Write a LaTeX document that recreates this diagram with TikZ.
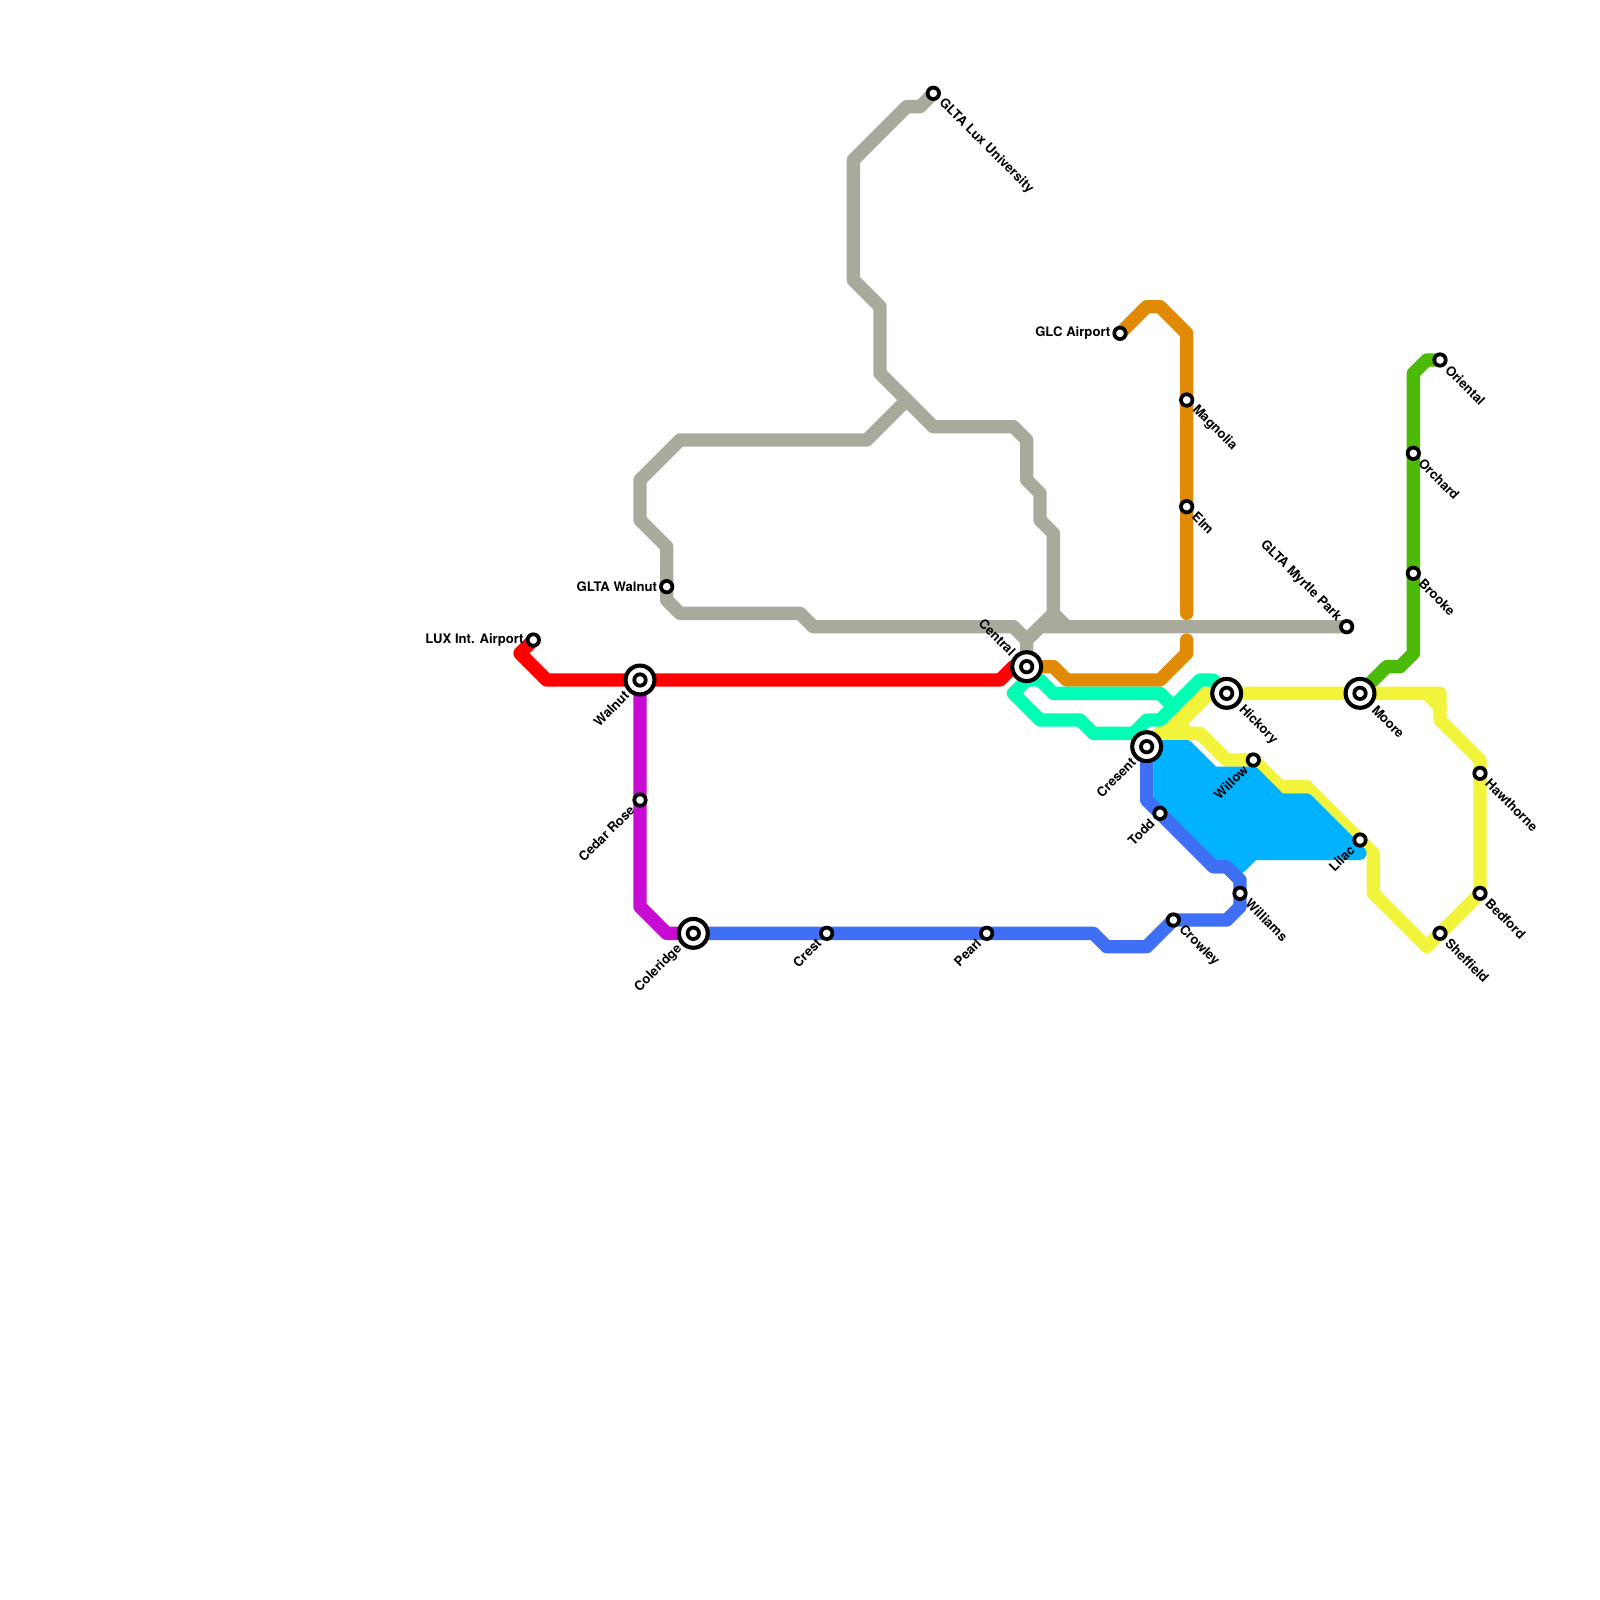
\documentclass[tikz,border=0pt]{standalone}
\usepackage{fontspec}
\setmainfont{TeX Gyre Heros}
\definecolor{cgrey}{HTML}{A9AA9C}
\definecolor{cred}{HTML}{FF0000}
\definecolor{corange}{HTML}{E08A05}
\definecolor{cteal}{HTML}{00FFB4}
\definecolor{cgreen}{HTML}{4CBB08}
\definecolor{cyel}{HTML}{F2F43C}
\definecolor{ccyan}{HTML}{00B2FF}
\definecolor{cblue}{HTML}{3F6FF5}
\definecolor{cpurple}{HTML}{C80BD3}
\tikzset{
 route/.style={line width=0.25cm,line cap=round,line join=round},
 stop/.style={circle,draw=black,fill=white,line width=2pt,minimum size=6.1pt,inner sep=0pt},
 hub/.style={circle,draw=black,fill=white,line width=2.2pt,minimum size=15.4pt,inner sep=0pt},
 lbl/.style={font=\bfseries\fontsize{7}{8}\selectfont,inner sep=0pt,text=black},
 lse/.style={lbl,rotate=-45,anchor=west},
 lsw/.style={lbl,rotate=45,anchor=east},
 lnw/.style={lbl,rotate=-45,anchor=east},
 lw/.style={lbl,anchor=east},
}
\begin{document}
\begin{tikzpicture}[x=0.25cm,y=-0.25cm]
\path[fill=white,use as bounding box] (0,0) rectangle (120,120);
% station positions
\coordinate (lux) at (40,48);
\coordinate (walnut) at (48,51);
\coordinate (cedar) at (48,60);
\coordinate (coleridge) at (52,70);
\coordinate (crest) at (62,70);
\coordinate (pearl) at (74,70);
\coordinate (central) at (77,50);
\coordinate (gltawalnut) at (50,44);
\coordinate (gltalux) at (70,7);
\coordinate (myrtle) at (101,47);
\coordinate (glc) at (84,25);
\coordinate (magnolia) at (89,30);
\coordinate (elm) at (89,38);
\coordinate (hickory) at (92,52);
\coordinate (moore) at (102,52);
\coordinate (cresent) at (86,56);
\coordinate (todd) at (87,61);
\coordinate (williams) at (93,67);
\coordinate (crowley) at (88,69);
\coordinate (willow) at (94,57);
\coordinate (lilac) at (102,63);
\coordinate (oriental) at (108,27);
\coordinate (orchard) at (106,34);
\coordinate (brooke) at (106,43);
\coordinate (hawthorne) at (111,58);
\coordinate (bedford) at (111,67);
\coordinate (sheffield) at (108,70);
% grey
\draw[route,cgrey] (myrtle) -- (80,47) -- (79,46) -- (79,40) -- (78,39) -- (78,37) -- (77,36) -- (77,33) -- (76,32) -- (70,32) -- (66,28) -- (66,23) -- (64,21) -- (64,12) -- (68,8) -- (69,8) -- (gltalux);
\draw[route,cgrey] (68,30) -- (65,33) -- (51,33) -- (48,36) -- (48,39) -- (50,41) -- (gltawalnut) -- (50,45) -- (51,46) -- (60,46) -- (61,47) -- (76,47) -- (77,48) -- (central);
\draw[route,cgrey] (77,48) -- (79,46);
\draw[route,cgrey] (77,48) -- (78,47) -- (80,47);
% red
\draw[route,cred] (lux) -- (39,49) -- (41,51) -- (walnut) -- (75,51) -- (76,50) -- (central);
% orange
\draw[route,corange] (central) -- (79,50) -- (80,51) -- (87,51) -- (89,49) -- (89,48);
\draw[route,corange] (89,46) -- (elm) -- (magnolia) -- (89,25) -- (87,23) -- (86,23) -- (glc);
% green
\draw[route,cgreen] (moore) -- (104,50) -- (105,50) -- (106,49) -- (brooke) -- (orchard) -- (106,28) -- (107,27) -- (oriental);
% yellow
\draw[route,cyel] (moore) -- (hickory) -- (90,52) -- (87,55) -- (cresent);
\draw[route,cyel] (hickory) -- (90.7,52) -- (88.5,54.2) -- (89,55);
\draw[route,cyel] (87,55) -- (90,55) -- (92,57) -- (willow) -- (96,59) -- (98,59) -- (lilac) -- (103,64) -- (103,67) -- (107,71) -- (sheffield) -- (bedford) -- (hawthorne) -- (111,57) -- (108,54) -- (108,52) -- (moore);
\draw[route,cyel] (107,52) -- (108,53);
% teal
\draw[route,cteal] (hickory) -- (91,51) -- (90,51) -- (87,54) -- (86,54) -- (85,55) -- (82,55) -- (81,54) -- (78,54) -- (76,52) -- (77,51) -- (78,51) -- (79,52) -- (87,52) -- (88,53);
% cyan
\draw[route,ccyan,fill=ccyan] (87,56) -- (89,56) -- (91,58) -- (94,58) -- (96,60) -- (98,60) -- (102,64) -- (94,64) -- (93,65) -- (91,65) -- (87,60) -- cycle;
% blue
\draw[route,cblue] (cresent) -- (86,60) -- (91,65) -- (92,65) -- (93,66) -- (williams) -- (93,68) -- (92,69) -- (crowley) -- (86,71) -- (83,71) -- (82,70) -- (coleridge);
% purple
\draw[route,cpurple] (walnut) -- (48,68) -- (50,70) -- (coleridge);
% stations
\foreach \s in {lux,cedar,crest,pearl,gltawalnut,gltalux,myrtle,glc,magnolia,elm,todd,williams,crowley,willow,lilac,oriental,orchard,brooke,hawthorne,bedford,sheffield}{\node[stop] (n\s) at (\s) {};}
\foreach \s in {walnut,coleridge,central,hickory,moore,cresent}{\node[hub] (n\s) at (\s) {}; \node[stop] (m\s) at (\s) {};}
% labels
\node[lw] at ([xshift=-5pt]lux) {LUX Int. Airport};
\node[lw] at ([xshift=-5pt]gltawalnut) {GLTA Walnut};
\node[lw] at ([xshift=-5pt]glc) {GLC Airport};
\node[lsw] at ([xshift=-7pt,yshift=-7pt]walnut) {Walnut};
\node[lsw] at ([xshift=-4pt,yshift=-4pt]cedar) {Cedar Rose};
\node[lsw] at ([xshift=-7pt,yshift=-7pt]coleridge) {Coleridge};
\node[lsw] at ([xshift=-4pt,yshift=-4pt]crest) {Crest};
\node[lsw] at ([xshift=-4pt,yshift=-4pt]pearl) {Pearl};
\node[lsw] at ([xshift=-7pt,yshift=-7pt]cresent) {Cresent};
\node[lsw] at ([xshift=-4pt,yshift=-4pt]todd) {Todd};
\node[lsw] at ([xshift=-4pt,yshift=-4pt]willow) {Willow};
\node[lsw] at ([xshift=-4pt,yshift=-4pt]lilac) {Lilac};
\node[lnw] at ([xshift=-7pt,yshift=7pt]central) {Central};
\node[lnw] at ([xshift=-4pt,yshift=4pt]myrtle) {GLTA Myrtle Park};
\node[lse] at ([xshift=4pt,yshift=-4pt]gltalux) {GLTA Lux University};
\node[lse] at ([xshift=4pt,yshift=-4pt]magnolia) {Magnolia};
\node[lse] at ([xshift=4pt,yshift=-4pt]elm) {Elm};
\node[lse] at ([xshift=7.5pt,yshift=-7.5pt]hickory) {Hickory};
\node[lse] at ([xshift=7.5pt,yshift=-7.5pt]moore) {Moore};
\node[lse] at ([xshift=4pt,yshift=-4pt]williams) {Williams};
\node[lse] at ([xshift=4pt,yshift=-4pt]crowley) {Crowley};
\node[lse] at ([xshift=4pt,yshift=-4pt]oriental) {Oriental};
\node[lse] at ([xshift=4pt,yshift=-4pt]orchard) {Orchard};
\node[lse] at ([xshift=4pt,yshift=-4pt]brooke) {Brooke};
\node[lse] at ([xshift=4pt,yshift=-4pt]hawthorne) {Hawthorne};
\node[lse] at ([xshift=4pt,yshift=-4pt]bedford) {Bedford};
\node[lse] at ([xshift=4pt,yshift=-4pt]sheffield) {Sheffield};
\end{tikzpicture}
\end{document}
